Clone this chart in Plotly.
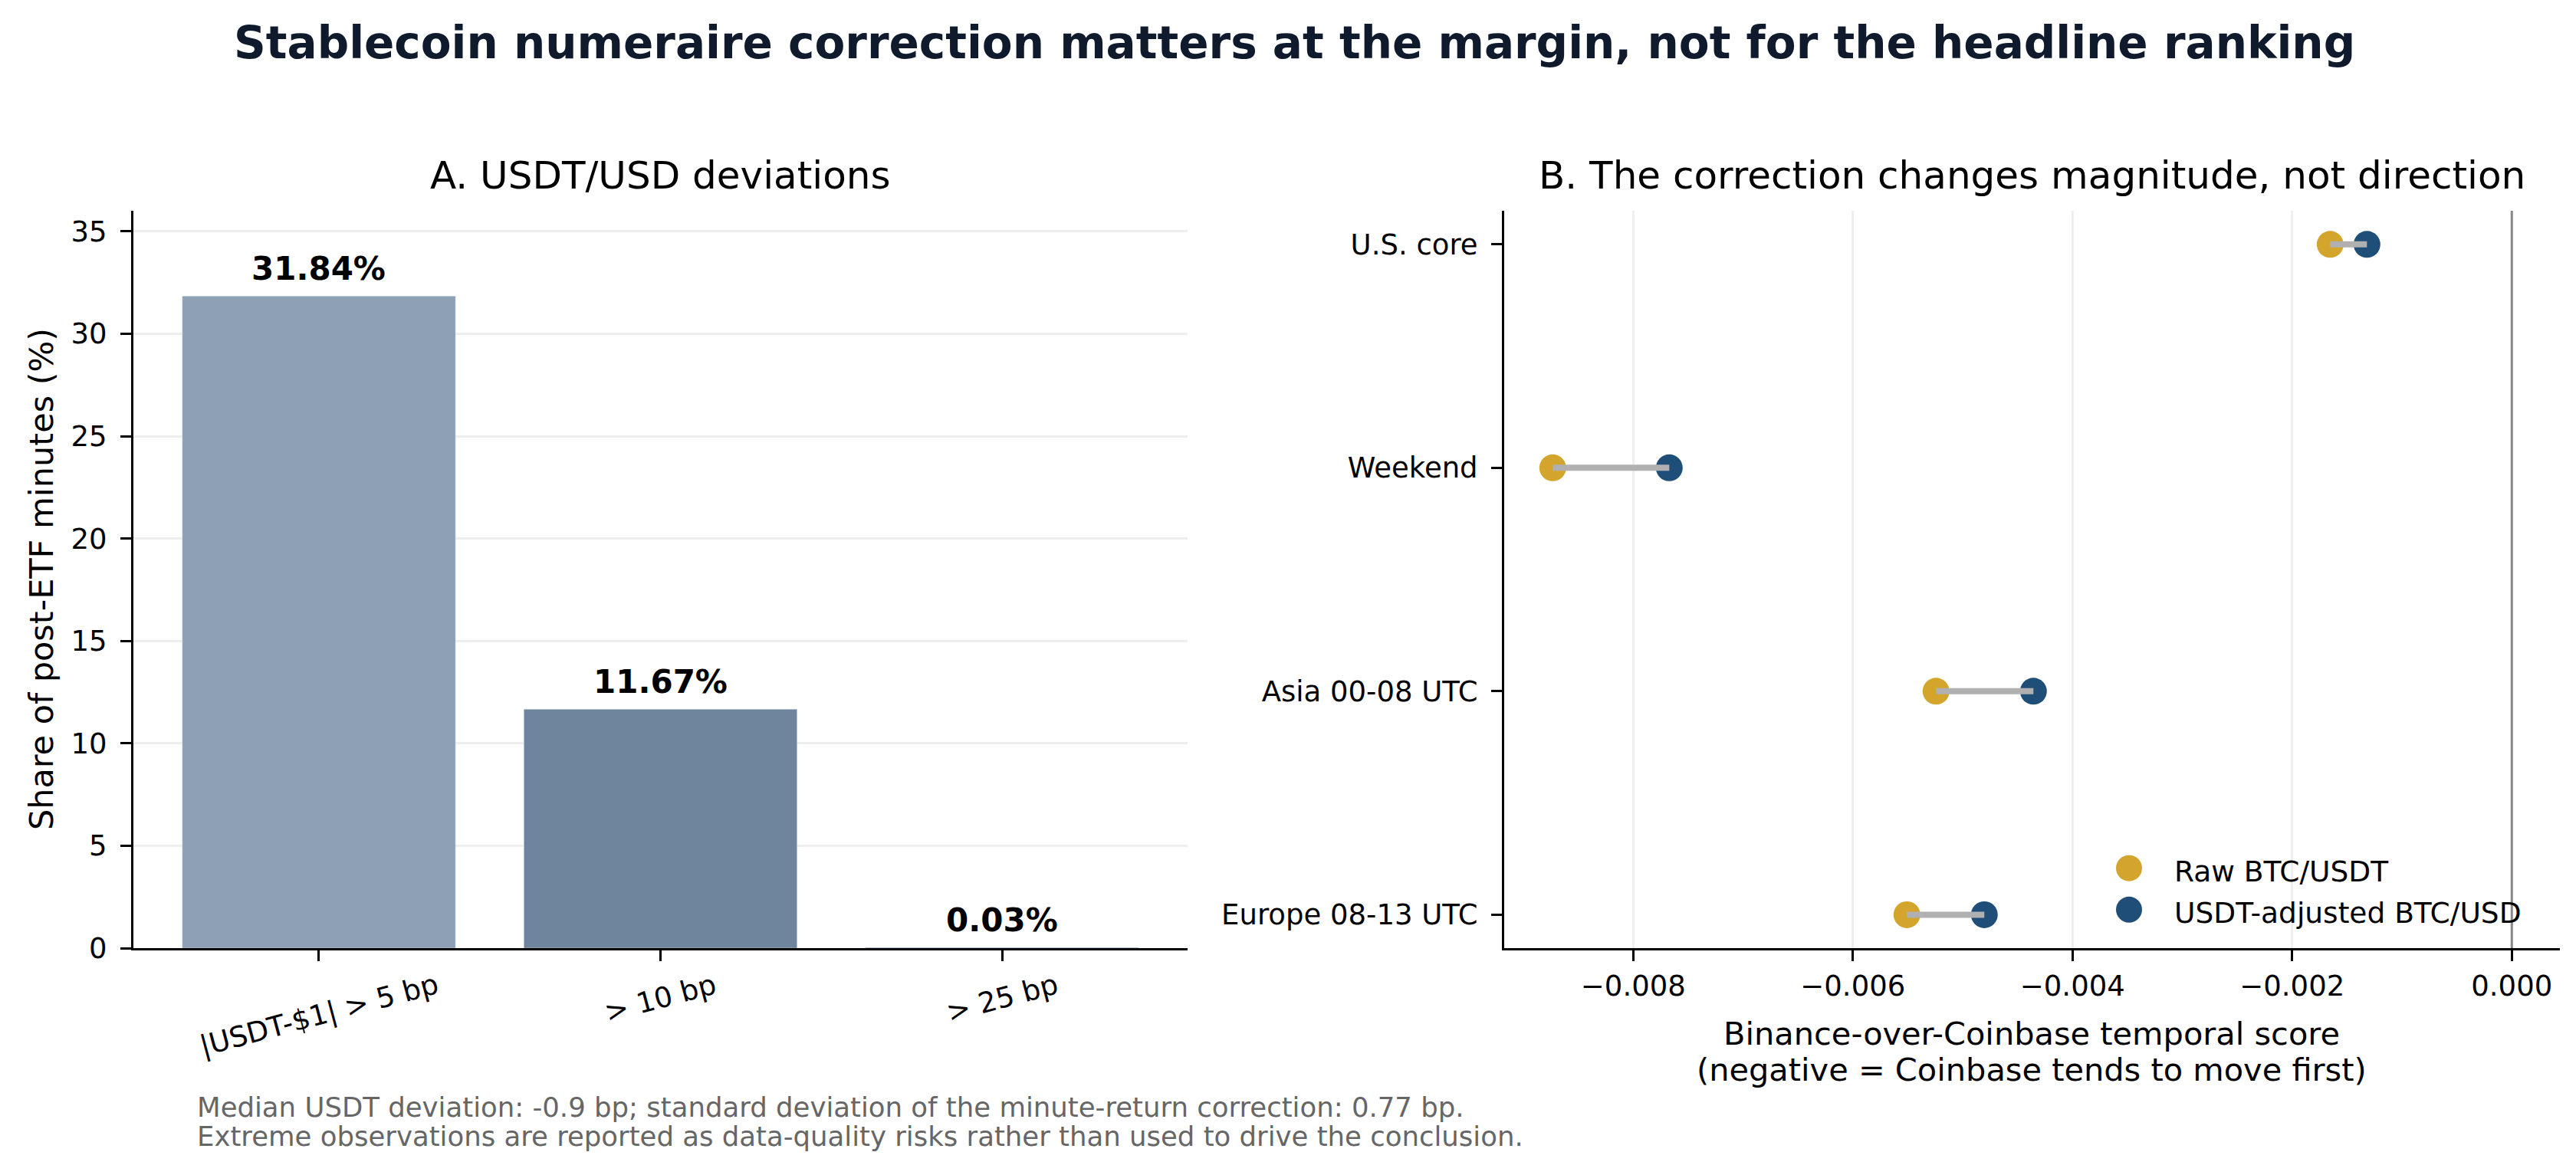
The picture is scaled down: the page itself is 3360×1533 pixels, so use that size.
import plotly.graph_objects as go

W, H = 3360, 1533
FONT = "DejaVu Sans"

# panel A data
thresholds = ["|USDT-$1| > 5 bp", "> 10 bp", "> 25 bp"]
share_pct = [31.84, 11.67, 0.03]
bar_colors = ["#8ea0b5", "#6f859d", "#52698a"]

# panel B data
sessions = ["U.S. core", "Weekend", "Asia 00-08 UTC", "Europe 08-13 UTC"]
raw_score = [-0.001654, -0.008733, -0.005243, -0.005508]
adj_score = [-0.001319, -0.007672, -0.004356, -0.004803]
x_ticks_b = [-0.008, -0.006, -0.004, -0.002, 0.0]

GOLD = "#d4a52c"
NAVY = "#1f4e79"


def px(x):
    return x / W


def py(y):
    return 1 - y / H


fig = go.Figure()

fig.add_trace(go.Bar(x=thresholds, y=share_pct, marker_color=bar_colors,
                     width=0.8, xaxis="x", yaxis="y", showlegend=False))

# markers first, connectors on top (as in the original)
fig.add_trace(go.Scatter(x=raw_score, y=sessions, mode="markers", name="Raw BTC/USDT",
                         marker=dict(color=GOLD, size=35), xaxis="x2", yaxis="y2",
                         showlegend=False))
fig.add_trace(go.Scatter(x=adj_score, y=sessions, mode="markers", name="USDT-adjusted BTC/USD",
                         marker=dict(color=NAVY, size=35), xaxis="x2", yaxis="y2",
                         showlegend=False))
for r, a, s in zip(raw_score, adj_score, sessions):
    fig.add_trace(go.Scatter(x=[r, a], y=[s, s], mode="lines",
                             line=dict(color="#b0b0b0", width=8),
                             xaxis="x2", yaxis="y2", showlegend=False, hoverinfo="skip"))

axis_common = dict(showline=True, linecolor="black", linewidth=3, ticks="outside",
                   ticklen=14, tickwidth=3, tickcolor="black",
                   tickfont=dict(family=FONT, size=37, color="black"), zeroline=False)

fig.update_layout(
    width=W, height=H,
    margin=dict(l=0, r=0, t=0, b=0),
    paper_bgcolor="white", plot_bgcolor="white",
    font=dict(family=FONT, color="black"),
    showlegend=False,
    bargap=0.2,
    xaxis=dict(domain=[px(166), px(1541)], range=[-0.543, 2.543], type="category",
               showticklabels=False, showgrid=False, anchor="y", **axis_common),
    yaxis=dict(domain=[py(1247), py(271)], range=[0, 36], tickvals=[0, 5, 10, 15, 20, 25, 30, 35],
               showgrid=True, gridcolor="#eeeeee", gridwidth=3, anchor="x",
               ticklabelstandoff=10, **axis_common),
    xaxis2=dict(domain=[px(1954), px(3331)], range=[-0.009175, 0.000438],
                tickvals=x_ticks_b, tickformat=".3f", showgrid=True, gridcolor="#eeeeee",
                gridwidth=3, anchor="y2", **axis_common),
    yaxis2=dict(domain=[py(1247), py(271)], type="category", categoryarray=sessions,
                range=[3.15, -0.15], showgrid=False, anchor="x2",
                ticklabelstandoff=10, **axis_common),
)

# zero reference line in panel B
fig.add_shape(type="line", xref="x2", yref="y2 domain", x0=0, x1=0, y0=0, y1=1,
              line=dict(color="#888888", width=3), layer="above")

ann = []
# main title
ann.append(dict(text="<b>Stablecoin numeraire correction matters at the margin, not for the headline ranking</b>",
                x=0.5, y=py(49), xref="paper", yref="paper", xanchor="center", yanchor="middle",
                showarrow=False, font=dict(family=FONT, size=58, color="#0f1b2d")))
# panel titles
ann.append(dict(text="A. USDT/USD deviations", x=px(853), y=py(224), xref="paper", yref="paper",
                xanchor="center", yanchor="middle", showarrow=False,
                font=dict(family=FONT, size=50, color="black")))
ann.append(dict(text="B. The correction changes magnitude, not direction", x=px(2642), y=py(224),
                xref="paper", yref="paper", xanchor="center", yanchor="middle", showarrow=False,
                font=dict(family=FONT, size=50, color="black")))
# bar value labels
for t, v in zip(thresholds, share_pct):
    ann.append(dict(text="<b>%.2f%%</b>" % v, x=t, y=v, xref="x", yref="y",
                    xanchor="center", yanchor="bottom", yshift=9, showarrow=False,
                    font=dict(family=FONT, size=42, color="black")))
# rotated category labels
for t in thresholds:
    ann.append(dict(text=t, x=t, y=py(1270), xref="x", yref="paper", xanchor="center",
                    yanchor="top", textangle=-15, showarrow=False,
                    font=dict(family=FONT, size=37, color="black")))
# axis titles
ann.append(dict(text="Share of post-ETF minutes (%)", x=px(46), y=py(759), xref="paper", yref="paper",
                xanchor="center", yanchor="middle", textangle=-90, showarrow=False,
                font=dict(family=FONT, size=43, color="black")))
ann.append(dict(text="Binance-over-Coinbase temporal score", x=px(2642), y=py(1360), xref="paper",
                yref="paper", xanchor="center", yanchor="middle", showarrow=False,
                font=dict(family=FONT, size=41.5, color="black")))
ann.append(dict(text="(negative = Coinbase tends to move first)", x=px(2642), y=py(1408), xref="paper",
                yref="paper", xanchor="center", yanchor="middle", showarrow=False,
                font=dict(family=FONT, size=41.5, color="black")))
# footnote
ann.append(dict(text="Median USDT deviation: -0.9 bp; standard deviation of the minute-return correction: 0.77 bp.",
                x=px(247), y=py(1457), xref="paper", yref="paper", xanchor="left", yanchor="middle",
                showarrow=False, font=dict(family=FONT, size=35.5, color="#666666")))
ann.append(dict(text="Extreme observations are reported as data-quality risks rather than used to drive the conclusion.",
                x=px(247), y=py(1496), xref="paper", yref="paper", xanchor="left", yanchor="middle",
                showarrow=False, font=dict(family=FONT, size=35.5, color="#666666")))

# legend drawn by hand so the markers keep their full size
legend_items = [("Raw BTC/USDT", GOLD, 1141), ("USDT-adjusted BTC/USD", NAVY, 1196)]
for label, col, yy in legend_items:
    fig.add_shape(type="circle", xref="paper", yref="paper", xsizemode="pixel", ysizemode="pixel",
                  xanchor=px(2769), yanchor=py(yy), x0=-17, x1=17, y0=-17, y1=17,
                  fillcolor=col, line=dict(width=0))
    ann.append(dict(text=label, x=px(2826), y=py(yy + 4), xref="paper", yref="paper", xanchor="left",
                    yanchor="middle", showarrow=False, font=dict(family=FONT, size=37.5, color="black")))

fig.update_layout(annotations=ann)

fig.write_html("out.html")
